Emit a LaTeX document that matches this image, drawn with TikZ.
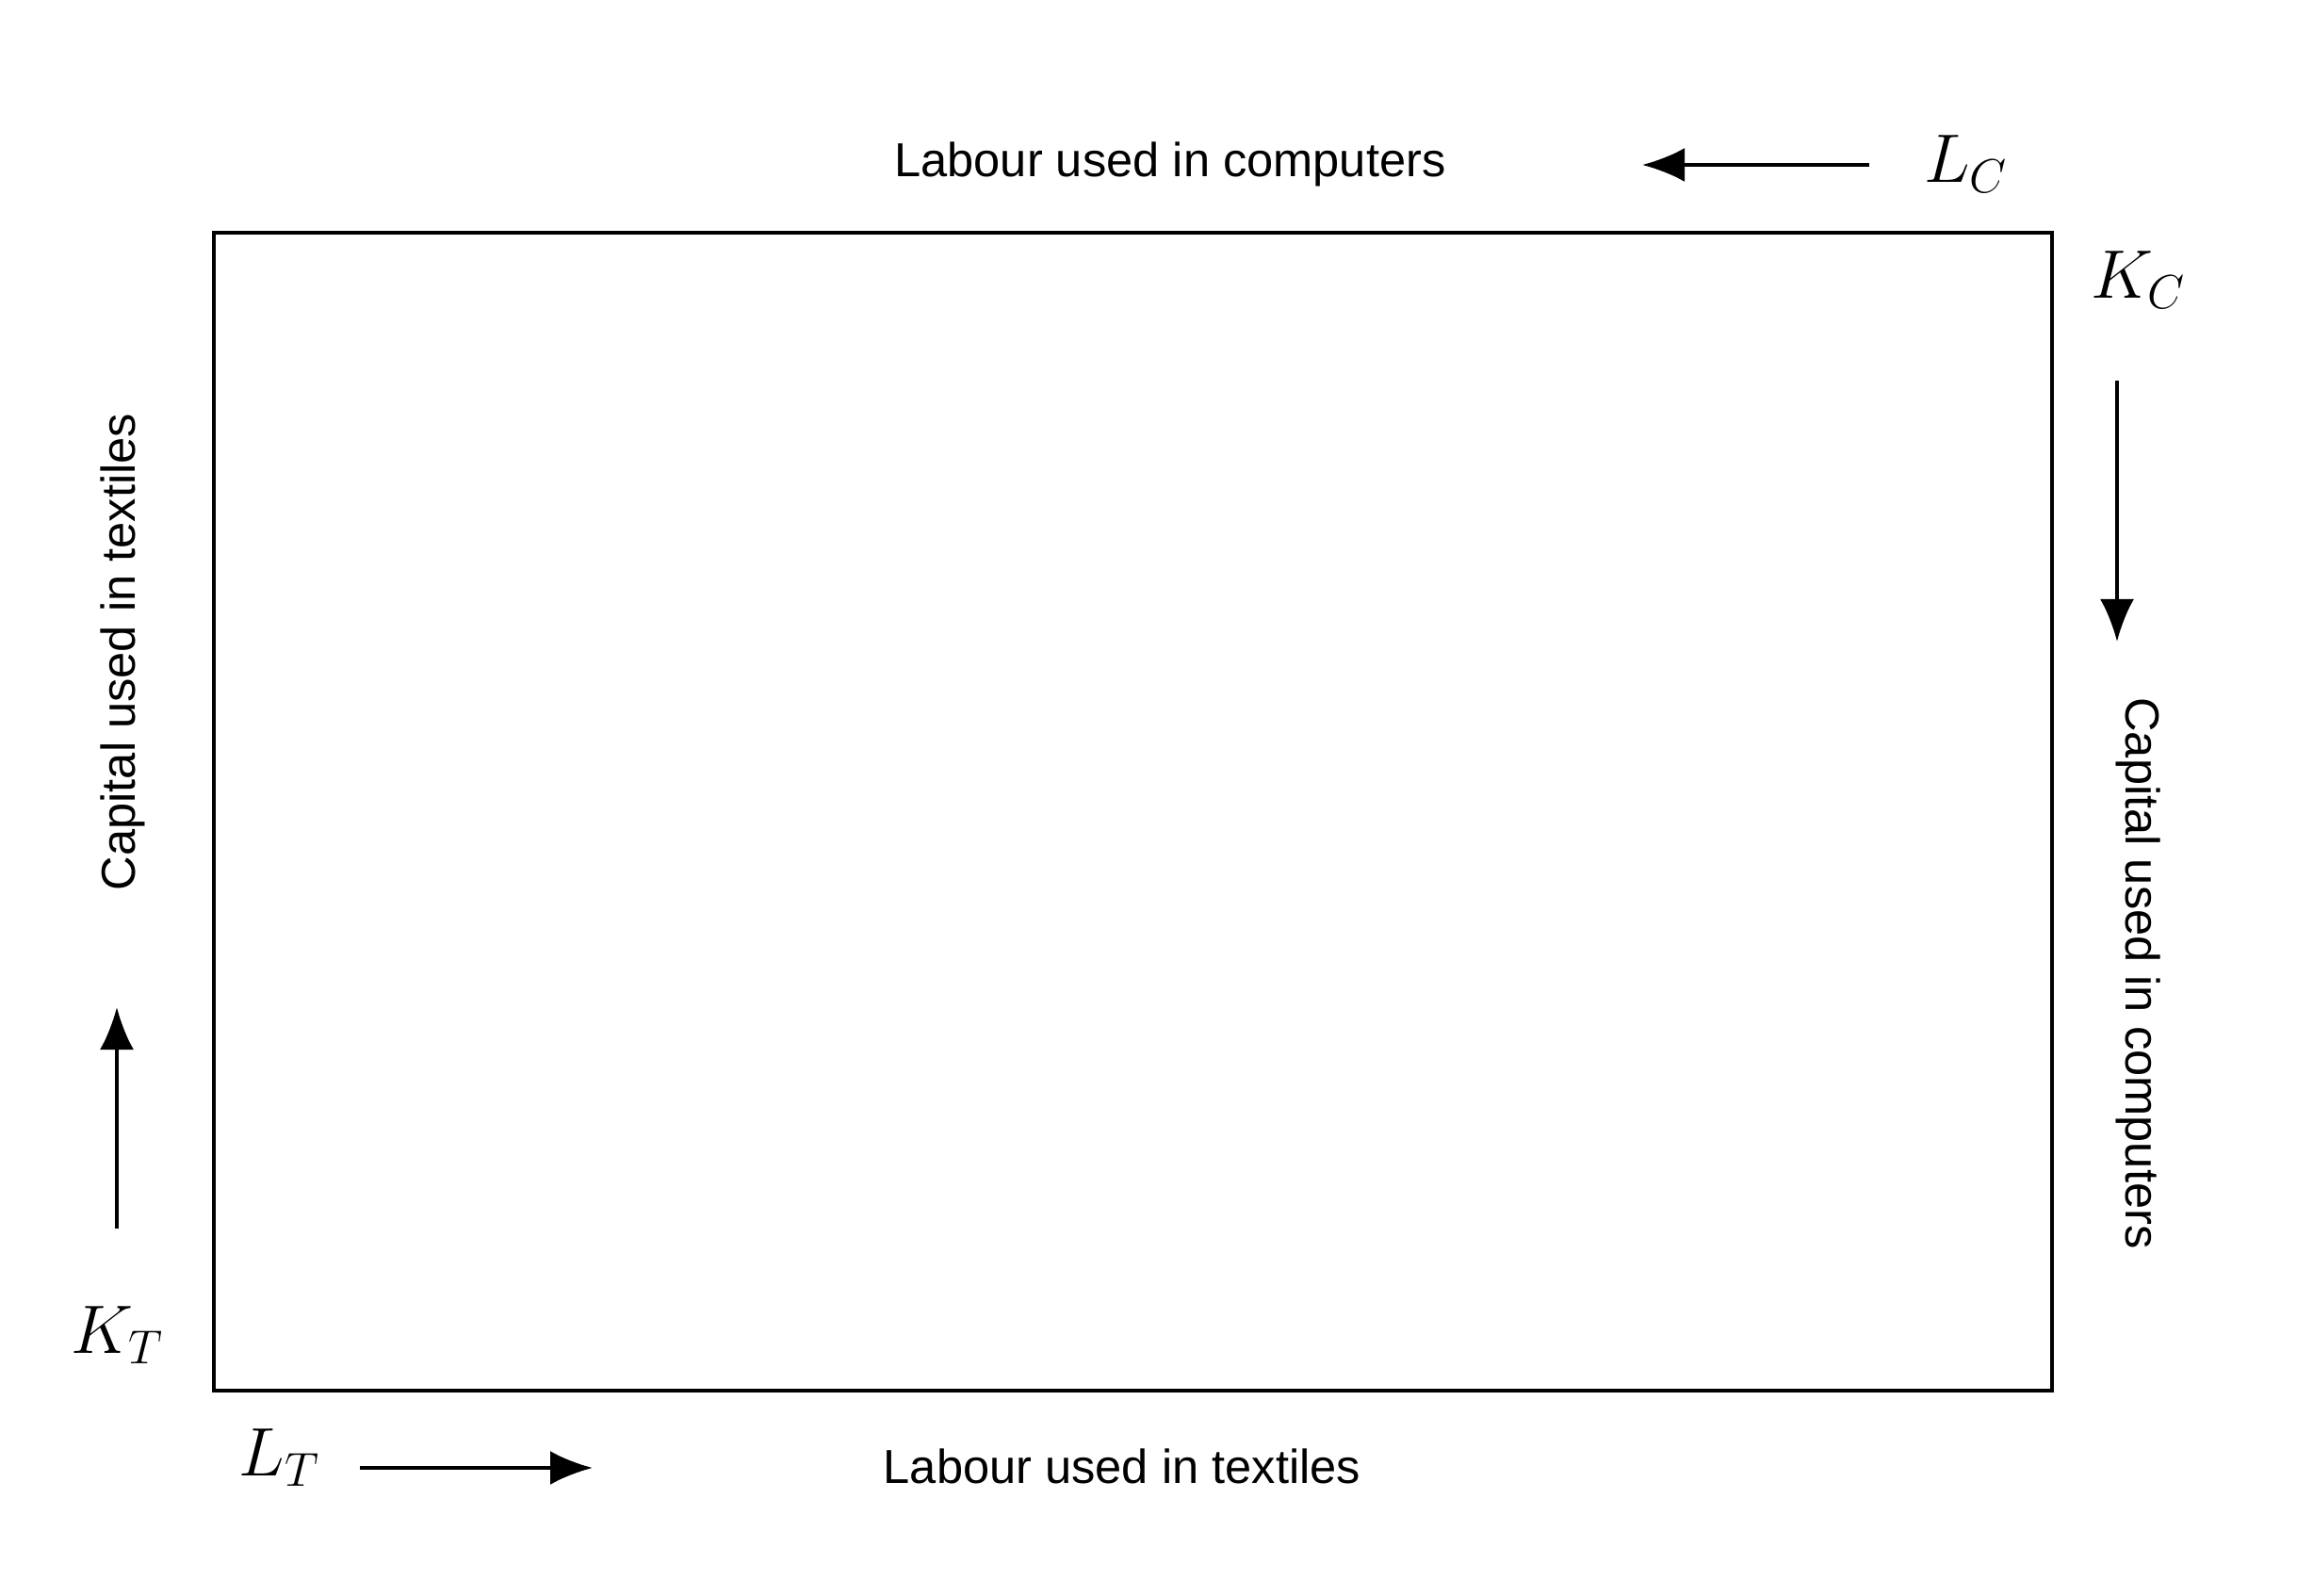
\documentclass[tikz,border=0pt]{standalone}
\usepackage{fontspec}
\setmainfont{Liberation Sans}
\usetikzlibrary{arrows.meta}

\tikzset{
  axislabel/.style={font=\fontsize{14.4}{17}\selectfont},
  factorsym/.style={font=\fontsize{20.5}{24}\selectfont},
  flowarrow/.style={line width=1.1pt, -{Latex[length=0.45cm,width=0.36cm]}}
}

\begin{document}
\begin{tikzpicture}
\useasboundingbox (0,0) rectangle (24.55,16.93);
% the box
\draw[line width=1.1pt] (2.27,2.17) rectangle (21.78,14.46);
% top: labour in computers
\node[axislabel] (lcText) at (12.42,15.19) {Labour used in computers};
\node[factorsym] (lcSym) at (20.87,15.19) {$L_C$};
\coordinate (lcFrom) at (19.84,15.18);
\coordinate (lcTo) at (17.43,15.18);
\draw[flowarrow] (lcFrom) -- (lcTo);
% right: capital in computers
\node[factorsym] (kcSym) at (22.70,13.96) {$K_C$};
\coordinate (kcFrom) at (22.47,12.89);
\coordinate (kcTo) at (22.47,10.12);
\draw[flowarrow] (kcFrom) -- (kcTo);
\node[axislabel, rotate=-90] (kcText) at (22.70,6.60) {Capital used in computers};
% left: capital in textiles
\node[axislabel, rotate=90] (ktText) at (1.30,10.01) {Capital used in textiles};
\coordinate (ktFrom) at (1.24,3.89);
\coordinate (ktTo) at (1.24,6.24);
\draw[flowarrow] (ktFrom) -- (ktTo);
\node[factorsym] (ktSym) at (1.25,2.76) {$K_T$};
% bottom: labour in textiles
\node[factorsym] (ltSym) at (2.97,1.46) {$L_T$};
\coordinate (ltFrom) at (3.82,1.35);
\coordinate (ltTo) at (6.29,1.35);
\draw[flowarrow] (ltFrom) -- (ltTo);
\node[axislabel] (ltText) at (11.91,1.37) {Labour used in textiles};
\end{tikzpicture}
\end{document}
